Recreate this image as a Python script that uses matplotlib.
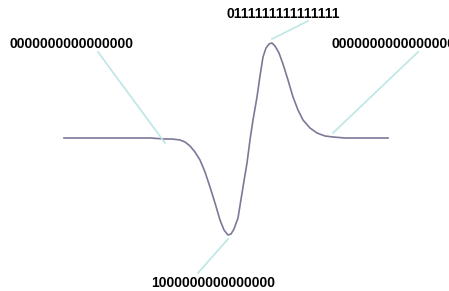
import matplotlib.pyplot as plt

# pulse shape, x = sample position, y = amplitude
xs = [0, 86, 101, 108, 116, 121, 126, 131, 136, 141, 146, 151, 156, 160, 164, 167, 170, 174,
      179, 183, 186, 189, 193, 196, 199, 202, 205, 208, 211, 215, 219, 224, 229, 234, 239,
      246, 253, 261, 269, 281, 324]
ys = [0, 0, -1, -1, -2, -4, -8, -14, -22, -34, -49, -65, -82, -92, -97, -96, -91, -80,
      -49, -25, -2, 18, 41, 62, 81, 90, 94, 95, 92, 85, 74, 58, 41, 28, 18,
      10, 5, 2, 1, 0, 0]

labels = ["0000000000000000", "1000000000000000", "0111111111111111", "0000000000000000"]
# index of the curve point each label points to
label_points = [2, 14, 27, 38]
label_text_pos = [(7, 94), (149, -145), (219, 124), (330, 94)]
label_line_start = [(34, 86), (134, -135), (244, 117), (354, 86)]

fig = plt.figure(figsize=(4.49, 2.91), dpi=100)
ax = fig.add_axes([0, 0, 1, 1])
ax.set_xlim(-64, 385)
ax.set_ylim(-153, 138)
ax.axis('off')

ax.plot(xs, ys, color="#7c7898", linewidth=1.2)

for text, idx, tpos, lstart in zip(labels, label_points, label_text_pos, label_line_start):
    ax.plot([lstart[0], xs[idx]], [lstart[1], ys[idx] + (4 if ys[idx] >= 0 else -4)],
            color="#bde6e6", linewidth=1.2)
    ax.text(tpos[0], tpos[1], text, ha='center', va='center',
            fontsize=10, fontweight='bold', family='Liberation Sans')

fig.savefig("out.png", dpi=100)
